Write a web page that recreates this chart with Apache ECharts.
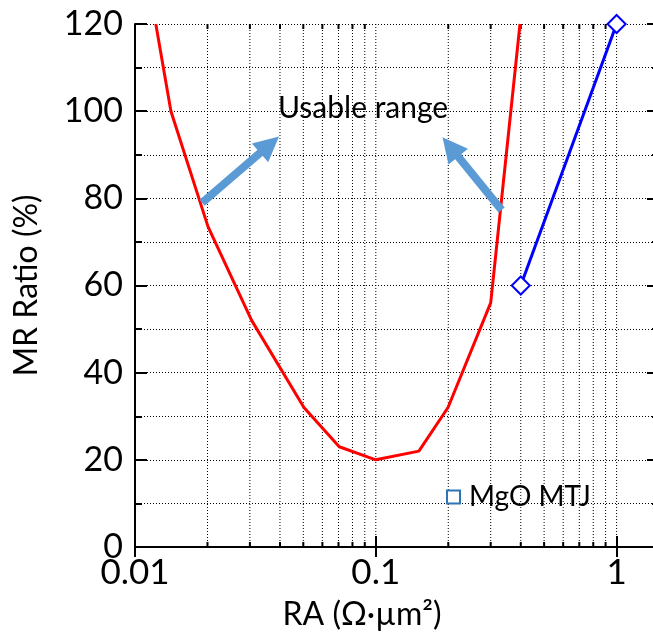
<!DOCTYPE html>
<html>
<head>
<meta charset="utf-8">
<script src="https://cdn.jsdelivr.net/npm/echarts@6/dist/echarts.min.js"></script>
<style>
html,body{margin:0;padding:0;background:#fff;}
#chart{width:653px;height:633px;}
</style>
</head>
<body>
<div id="chart"></div>
<script>
// ---- data ----
const redRA = [0.0122, 0.0141, 0.0201, 0.0305, 0.0503, 0.0705, 0.1, 0.151, 0.1995, 0.3, 0.397];
const redMR = [120, 100, 73.5, 52, 32, 23, 20, 22, 32, 56, 120];
const blueRA = [0.4, 1];
const blueMR = [60, 120];
const xMajorTicks = [0.01, 0.1, 1];
const xMinorTicks = [0.02,0.03,0.04,0.05,0.06,0.07,0.08,0.09,0.2,0.3,0.4,0.5,0.6,0.7,0.8,0.9];
const arrowLeft = [[0.019, 79], [0.0362, 92.3]];
const arrowRight = [[0.333, 77.3], [0.204, 91.8]];
const legendName = 'MgO MTJ';
const annotationText = 'Usable range';

const FONT = 'Lato';
const chart = echarts.init(document.getElementById('chart'), null, {renderer:'canvas'});

const gridData = xMajorTicks.map(v => [v, 0, 1]).concat(xMinorTicks.map(v => [v, 0, 0]));

const option = {
  animation: false,
  backgroundColor: '#fff',
  textStyle: {fontFamily: FONT},
  grid: {left: 135, top: 24, bottom: 86, right: -6, containLabel: false, outerBoundsMode: 'none'},
  legend: {
    left: 441, top: 478,
    itemWidth: 13, itemHeight: 13,
    textStyle: {fontFamily: FONT, fontSize: 28, color: '#000', padding: [0,0,0,4]},
    data: [{name: legendName, icon: 'emptyRect', itemStyle: {color: '#2E75B6', borderColor: '#2E75B6', borderWidth: 1.5}}]
  },
  graphic: [{
    type: 'text', left: 278, top: 93,
    style: {text: annotationText, fontFamily: FONT, fontSize: 30, fill: '#000'}
  }],
  xAxis: [{
    type: 'log', logBase: 10, min: 0.01, max: 1.5, position: 'bottom',
    axisLine: {show: true, lineStyle: {color: '#000', width: 2}},
    axisTick: {show: true, inside: true, length: 11, lineStyle: {color: '#000', width: 2}},
    axisLabel: {
      fontFamily: FONT, fontSize: 35, color: '#000', margin: 8, showMaxLabel: false,
      formatter: function (v) { return [0.01, 0.1, 1].some(m => Math.abs(v - m) < 1e-9) ? String(v) : ''; }
    },
    splitLine: {show: false},
    name: 'RA (Ω·µm²)', nameLocation: 'middle', nameGap: 52,
    nameTextStyle: {fontFamily: FONT, fontSize: 32, color: '#000', padding: [0, 70, 0, 0]}
  }, {
    type: 'log', logBase: 10, min: 0.01, max: 1.5, position: 'top',
    axisLine: {show: true, lineStyle: {color: '#000', width: 2}},
    axisTick: {show: true, inside: true, length: 10, lineStyle: {color: '#000', width: 2}},
    axisLabel: {show: false}, splitLine: {show: false}
  }],
  yAxis: [{
    type: 'value', min: 0, max: 120, interval: 20, position: 'left',
    axisLine: {show: true, lineStyle: {color: '#000', width: 2}},
    axisTick: {show: true, inside: true, length: 12, lineStyle: {color: '#000', width: 2}},
    minorTick: {show: true, splitNumber: 2, length: 7, lineStyle: {color: '#000', width: 2}},
    splitLine: {show: true, lineStyle: {color: '#000', width: 1, type: [1, 2]}},
    minorSplitLine: {show: true, lineStyle: {color: '#000', width: 1, type: [1, 2]}},
    axisLabel: {fontFamily: FONT, fontSize: 34, color: '#000', margin: 12},
    name: 'MR Ratio (%)', nameLocation: 'middle', nameGap: 92, nameRotate: 90,
    nameTextStyle: {fontFamily: FONT, fontSize: 32, color: '#000'}
  }, {
    type: 'value', min: 0, max: 120, interval: 20, position: 'right',
    axisLine: {show: true, lineStyle: {color: '#000', width: 2}},
    axisTick: {show: true, inside: true, length: 12, lineStyle: {color: '#000', width: 2}},
    minorTick: {show: true, splitNumber: 2, length: 7, lineStyle: {color: '#000', width: 2}},
    axisLabel: {show: false}, splitLine: {show: false}
  }],
  series: [{
    type: 'custom', name: 'grid', silent: true, z: 1,
    xAxisIndex: 0, yAxisIndex: 0,
    data: gridData,
    renderItem: function (params, api) {
      const v = api.value(0);
      const p0 = api.coord([v, 0]);
      const p1 = api.coord([v, 120]);
      const children = [{
        type: 'line', shape: {x1: p0[0], y1: p0[1], x2: p1[0], y2: p1[1]},
        style: {stroke: '#000', lineWidth: 1, lineDash: [1, 2]}
      }];
      if (!api.value(2)) {
        children.push({type: 'line', shape: {x1: p0[0], y1: p0[1], x2: p0[0], y2: p0[1] - 5}, style: {stroke: '#000', lineWidth: 2}});
        children.push({type: 'line', shape: {x1: p1[0], y1: p1[1], x2: p1[0], y2: p1[1] + 5}, style: {stroke: '#000', lineWidth: 2}});
      }
      return {type: 'group', children: children};
    }
  }, {
    type: 'line', name: 'red', z: 3,
    data: redRA.map((x, i) => [x, redMR[i]]),
    showSymbol: false, symbol: 'none',
    lineStyle: {color: '#FF0000', width: 3},
    itemStyle: {color: '#FF0000'},
    markLine: {
      silent: true, symbol: ['none', 'triangle'], symbolSize: 25,
      label: {show: false},
      lineStyle: {color: '#5B9BD5', width: 8, type: 'solid'},
      emphasis: {disabled: true},
      data: [
        [{coord: arrowLeft[0]}, {coord: arrowLeft[1]}],
        [{coord: arrowRight[0]}, {coord: arrowRight[1]}]
      ]
    }
  }, {
    type: 'line', name: legendName, z: 4, clip: false,
    data: blueRA.map((x, i) => [x, blueMR[i]]),
    symbol: 'diamond', symbolSize: 18, showSymbol: true,
    lineStyle: {color: '#0000FF', width: 3},
    itemStyle: {color: '#FFFFFF', borderColor: '#0000FF', borderWidth: 2}
  }]
};
chart.setOption(option);
</script>
</body>
</html>
